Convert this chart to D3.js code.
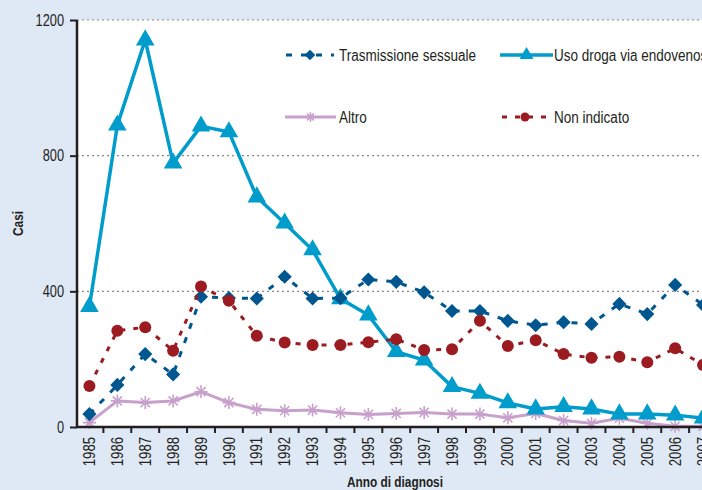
<!DOCTYPE html>
<html>
<head>
<meta charset="utf-8">
<script src="https://cdn.jsdelivr.net/npm/d3@7"></script>
<style>
html,body{margin:0;padding:0;background:#dfe8f5;}
svg{display:block;}
text{font-family:"Liberation Sans",Arial,sans-serif;fill:#231f20;}
</style>
</head>
<body>
<svg id="chart" width="702" height="490"></svg>
<script>
const years = ["1985","1986","1987","1988","1989","1990","1991","1992","1993","1994","1995","1996","1997","1998","1999","2000","2001","2002","2003","2004","2005","2006","2007"];
const trasmissioneSessuale = [38,124,215,155,384,380,379,443,379,380,435,428,397,342,342,313,300,309,304,363,333,419,360];
const usoDroga = [355,890,1141,778,887,870,678,601,522,378,330,222,197,119,99,71,53,60,53,38,38,35,26];
const altro = [13,77,72,77,104,72,52,48,50,42,37,40,43,38,38,27,40,19,11,26,11,2,2];
const nonIndicato = [121,284,294,225,414,372,269,249,242,242,250,259,227,229,313,239,256,215,204,207,191,232,183];
const yTicks = [0,400,800,1200];
const seriesNames = ["Trasmissione sessuale","Uso droga via endovenosa","Altro","Non indicato"];

(function(){
const svg = d3.select("#chart");
const mLeft = 77, mTop = 20, mBottom = 427, mRight = 717;
const fontFam = '"Liberation Sans",Arial,sans-serif';

const x = d3.scaleBand().domain(years).range([75.5, mRight]);
const y = d3.scaleLinear().domain([0,1200]).range([mBottom, mTop]);

// condense text along its own direction (reference uses a condensed face)
function condense(sel, f) {
  sel.each(function() {
    const len = this.getComputedTextLength();
    d3.select(this).attr("textLength", len * f).attr("lengthAdjust", "spacingAndGlyphs");
  });
}

// plot area
svg.append("rect").attr("x", mLeft).attr("y", mTop).attr("width", 702 - mLeft).attr("height", mBottom - mTop).attr("fill", "#ffffff");

// gridlines
svg.append("g").selectAll("line").data(yTicks.filter(d => d > 0)).join("line")
  .attr("x1", mLeft).attr("x2", 702).attr("y1", d => y(d)).attr("y2", d => y(d))
  .attr("stroke", "#8a8a8a").attr("stroke-width", 1.2).attr("stroke-dasharray", "2,3");

const series = [
  {name: seriesNames[0], values: trasmissioneSessuale, color: "#00578f", dash: "6,9", width: 3, symbol: "diamond"},
  {name: seriesNames[1], values: usoDroga, color: "#009ccc", dash: null, width: 3.5, symbol: "triangle"},
  {name: seriesNames[2], values: altro, color: "#c8a0cc", dash: null, width: 3, symbol: "asterisk"},
  {name: seriesNames[3], values: nonIndicato, color: "#9b1b20", dash: "5,8", width: 3, symbol: "circle"}
];

const cx = d => x(d) + x.bandwidth() / 2;
const line = d3.line().x(d => cx(d.year)).y(d => y(d.v));

function drawMarker(g, s, px, py, k) {
  k = k || 1;
  if (s.symbol === "diamond") {
    g.append("path").attr("d", d3.symbol(d3.symbolSquare, 100 * k * k)()).attr("transform", `translate(${px},${py}) rotate(45)`).attr("fill", s.color);
  } else if (s.symbol === "triangle") {
    g.append("path").attr("d", d3.symbol(d3.symbolTriangle, 150 * k * k)()).attr("transform", `translate(${px},${py})`).attr("fill", s.color);
  } else if (s.symbol === "circle") {
    g.append("circle").attr("cx", px).attr("cy", py).attr("r", 6 * k).attr("fill", s.color);
  } else if (s.symbol === "asterisk") {
    const r = 6.5 * k;
    const p = `M${-r},0L${r},0M0,${-r}L0,${r}M${-r*0.7},${-r*0.7}L${r*0.7},${r*0.7}M${-r*0.7},${r*0.7}L${r*0.7},${-r*0.7}`;
    g.append("path").attr("d", p).attr("transform", `translate(${px},${py})`).attr("stroke", s.color).attr("stroke-width", 1.6).attr("fill", "none");
  }
}

const order = [2, 1, 0, 3];
const plot = svg.append("g");
order.forEach(i => {
  const s = series[i];
  const pts = years.map((yr, j) => ({year: yr, v: s.values[j]}));
  plot.append("path").datum(pts).attr("d", line).attr("fill", "none")
    .attr("stroke", s.color).attr("stroke-width", s.width)
    .attr("stroke-dasharray", s.dash).attr("stroke-linejoin", "round");
  const mg = plot.append("g");
  pts.forEach(p => drawMarker(mg, s, cx(p.year), y(p.v)));
});

// axes
const yAxis = svg.append("g").attr("transform", `translate(${mLeft},0)`)
  .call(d3.axisLeft(y).tickValues(yTicks).tickSize(7).tickPadding(6).tickFormat(d3.format("d")));
yAxis.select(".domain").attr("stroke", "#231f20").attr("stroke-width", 2.5).attr("d", `M0,${mTop}V${mBottom+1}`);
yAxis.selectAll(".tick line").attr("stroke", "#231f20").attr("stroke-width", 2);
yAxis.selectAll(".tick text").attr("font-size", 16).attr("fill", "#231f20").style("font-family", fontFam)
  .call(condense, 0.8);

const xAxis = svg.append("g").attr("transform", `translate(0,${mBottom})`)
  .call(d3.axisBottom(x).tickSize(0).tickPadding(0));
xAxis.select(".domain").attr("stroke", "#231f20").attr("stroke-width", 2.5).attr("d", `M${mLeft-1},0H702`);
xAxis.selectAll(".tick text").attr("font-size", 16).attr("fill", "#231f20").style("font-family", fontFam)
  .attr("transform", "rotate(-90)").attr("text-anchor", "end").attr("x", -10).attr("y", 0).attr("dy", "0.35em")
  .call(condense, 0.82);
// tick marks between categories
xAxis.append("g").selectAll("line").data(years.slice(1)).join("line")
  .attr("x1", d => x(d)).attr("x2", d => x(d)).attr("y1", 0).attr("y2", 6)
  .attr("stroke", "#231f20").attr("stroke-width", 2);

// axis titles
svg.append("text").attr("x", 395).attr("y", 487).attr("text-anchor", "middle")
  .attr("font-size", 15.5).attr("font-weight", "bold").text("Anno di diagnosi")
  .attr("textLength", 96).attr("lengthAdjust", "spacingAndGlyphs");
svg.append("text").attr("transform", `translate(23,${(mTop + mBottom) / 2}) rotate(-90)`).attr("text-anchor", "middle")
  .attr("font-size", 15.5).attr("font-weight", "bold").text("Casi")
  .attr("textLength", 25).attr("lengthAdjust", "spacingAndGlyphs");

// legend
const legendItems = [
  {s: series[0], x1: 286, x2: 334, tx: 339, ty: 55},
  {s: series[1], x1: 500, x2: 553, tx: 554, ty: 55},
  {s: series[2], x1: 285, x2: 336, tx: 339, ty: 117},
  {s: series[3], x1: 502, x2: 548, tx: 554, ty: 117}
];
const lg = svg.append("g");
legendItems.forEach(it => {
  lg.append("line").attr("x1", it.x1).attr("x2", it.x2).attr("y1", it.ty).attr("y2", it.ty)
    .attr("stroke", it.s.color).attr("stroke-width", it.s.width).attr("stroke-dasharray", it.s.dash);
  drawMarker(lg, it.s, (it.x1 + it.x2) / 2, it.ty, 0.75);
  lg.append("text").attr("x", it.tx).attr("y", it.ty).attr("dy", "0.35em").attr("font-size", 16).text(it.s.name)
    .call(condense, 0.845);
});
})();
</script>
</body>
</html>
